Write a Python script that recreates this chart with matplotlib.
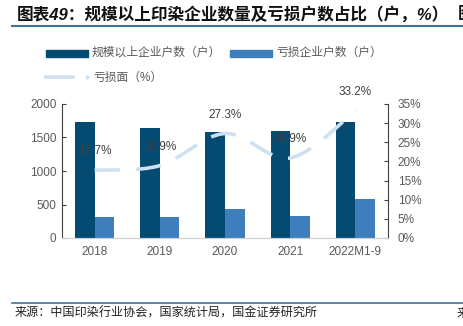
import numpy as np
import matplotlib.pyplot as plt
from matplotlib.path import Path
from matplotlib.patches import PathPatch, Rectangle
from matplotlib.lines import Line2D

plt.rcParams['font.family'] = ['Liberation Sans', 'Noto Sans CJK SC', 'DejaVu Sans']

categories = ['2018', '2019', '2020', '2021', '2022M1-9']
total_firms = [1725, 1640, 1585, 1590, 1725]
loss_firms = [312, 312, 437, 328, 580]
loss_rate = [17.7, 18.9, 27.3, 20.9, 33.2]
left_ticks = [0, 500, 1000, 1500, 2000]
right_ticks = [0, 5, 10, 15, 20, 25, 30, 35]

c_dark = '#034b70'
c_light = '#3f7ebd'
c_line = '#cfe1f1'
c_text = '#595959'

W, H = 463, 326
fig = plt.figure(figsize=(W / 100, H / 100), dpi=100)

def fx(px):
    return px / W

def fy(py):
    return 1 - py / H

ax = fig.add_axes([fx(62), fy(238), fx(388) - fx(62), fy(104) - fy(238)])
ax2 = ax.twinx()

x = np.arange(len(categories))
bw = 0.3
ax.bar(x - bw / 2, total_firms, bw, color=c_dark, zorder=2)
ax.bar(x + bw / 2, loss_firms, bw, color=c_light, zorder=2)
ax.set_xlim(-0.5, len(categories) - 0.5)
ax.set_ylim(0, 2000)
ax.set_yticks(left_ticks)
ax.set_xticks(x)
ax.set_xticklabels(categories)

# smooth dashed line (bezier through the data points)
pts = np.column_stack([x, loss_rate]).astype(float)
verts = [pts[0]]
codes = [Path.MOVETO]
n = len(pts)
for i in range(n - 1):
    p0 = pts[max(i - 1, 0)]
    p1 = pts[i]
    p2 = pts[i + 1]
    p3 = pts[min(i + 2, n - 1)]
    verts += [p1 + (p2 - p0) / 6, p2 - (p3 - p1) / 6, p2]
    codes += [Path.CURVE4] * 3
curve = PathPatch(Path(verts, codes), fill=False, edgecolor=c_line, lw=2.6,
                  linestyle=(0, (7, 4.5)), capstyle='butt', zorder=3)
ax2.add_patch(curve)
ax2.set_ylim(0, 35)
ax2.set_yticks(right_ticks)
ax2.set_yticklabels([f'{t}%' for t in right_ticks])
ax2.set_zorder(ax.get_zorder() + 1)
ax2.patch.set_visible(False)

for xi, v in zip(x, loss_rate):
    ax2.annotate(f'{v}%', (xi, v), xytext=(0, 13.5), textcoords='offset points',
                 ha='center', va='center', fontsize=8.5, color='#404040')

for a in (ax, ax2):
    a.spines['top'].set_visible(False)
    a.spines['bottom'].set_color('#d0d0d0')
    a.tick_params(labelsize=8.5, labelcolor=c_text, length=3, color='#404040',
                  direction='in', width=0.8)
ax.spines['right'].set_visible(False)
ax2.spines['left'].set_visible(False)
ax.spines['left'].set_color('#404040')
ax2.spines['right'].set_color('#404040')
ax.tick_params(axis='x', length=0, pad=6)
ax.tick_params(axis='y', pad=4)
ax2.tick_params(axis='y', pad=7)

# legend
fig.add_artist(Rectangle((fx(46), fy(56.5)), fx(88) - fx(46), fy(49.5) - fy(56.5),
                         color=c_dark, transform=fig.transFigure))
fig.text(fx(92), fy(53), '规模以上企业户数（户）', fontsize=8.5, color=c_text,
         va='center', ha='left')
fig.add_artist(Rectangle((fx(230), fy(56.5)), fx(272) - fx(230), fy(49.5) - fy(56.5),
                         color=c_light, transform=fig.transFigure))
fig.text(fx(276), fy(53), '亏损企业户数（户）', fontsize=8.5, color=c_text,
         va='center', ha='left')
fig.add_artist(Line2D([fx(46), fx(73)], [fy(77), fy(77)], color=c_line, lw=2.6,
                      transform=fig.transFigure))
fig.add_artist(Line2D([fx(87)], [fy(77)], marker='o', ms=2, color=c_line,
                      transform=fig.transFigure))
fig.text(fx(93), fy(78), '亏损面（%）', fontsize=8.5, color=c_text,
         va='center', ha='left')

# title and source
fig.text(fx(17), fy(14), '图表49：规模以上印染企业数量及亏损户数占比（户，%）',
         fontsize=12, fontweight='bold', style='italic', color='#111111',
         va='center', ha='left')
fig.text(fx(458), fy(14), '图', fontsize=12, fontweight='bold', color='#111111',
         va='center', ha='left')
fig.add_artist(Line2D([fx(12), 1], [fy(25.5), fy(25.5)], color='#3f7394', lw=1.5,
                      transform=fig.transFigure))
fig.add_artist(Line2D([fx(12), 1], [fy(302.5), fy(302.5)], color='#3f7394', lw=1.2,
                      transform=fig.transFigure))
fig.text(fx(15), fy(314), '来源：中国印染行业协会，国家统计局，国金证券研究所',
         fontsize=8.7, color='#222222', va='center', ha='left')
fig.text(fx(457), fy(314), '来', fontsize=8.7, color='#222222', va='center', ha='left')

fig.savefig('out.png', dpi=100)
